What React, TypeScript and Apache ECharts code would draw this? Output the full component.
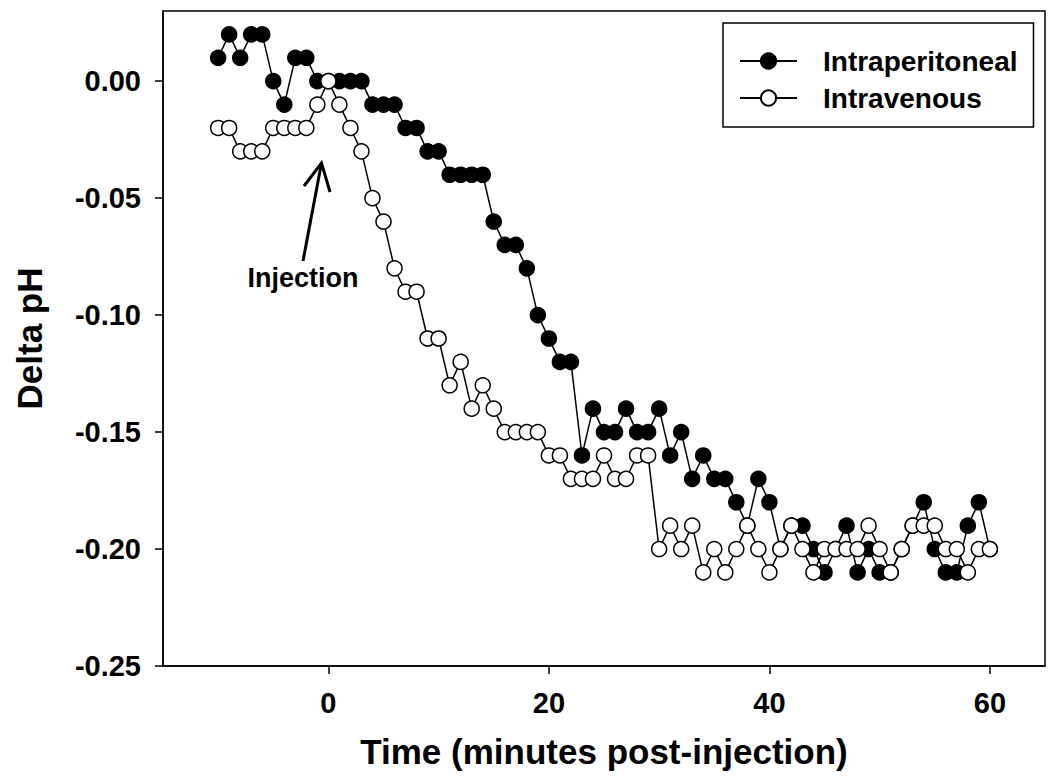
import React, { useEffect, useRef } from "react";
import * as echarts from "echarts";

const minutes = [
  -10, -9, -8, -7, -6, -5, -4, -3, -2, -1, 0, 1, 2, 3, 4, 5, 6, 7, 8, 9, 10,
  11, 12, 13, 14, 15, 16, 17, 18, 19, 20, 21, 22, 23, 24, 25, 26, 27, 28, 29, 30,
  31, 32, 33, 34, 35, 36, 37, 38, 39, 40, 41, 42, 43, 44, 45, 46, 47, 48, 49, 50,
  51, 52, 53, 54, 55, 56, 57, 58, 59, 60,
];

const intraperitoneal = [
  0.01, 0.02, 0.01, 0.02, 0.02, 0.0, -0.01, 0.01, 0.01, 0.0, 0.0, 0.0, 0.0, 0.0,
  -0.01, -0.01, -0.01, -0.02, -0.02, -0.03, -0.03, -0.04, -0.04, -0.04, -0.04,
  -0.06, -0.07, -0.07, -0.08, -0.1, -0.11, -0.12, -0.12, -0.16, -0.14, -0.15,
  -0.15, -0.14, -0.15, -0.15, -0.14, -0.16, -0.15, -0.17, -0.16, -0.17, -0.17,
  -0.18, -0.19, -0.17, -0.18, -0.2, -0.19, -0.19, -0.2, -0.21, -0.2, -0.19,
  -0.21, -0.2, -0.21, -0.21, -0.2, -0.19, -0.18, -0.2, -0.21, -0.21, -0.19,
  -0.18, -0.2,
];

const intravenous = [
  -0.02, -0.02, -0.03, -0.03, -0.03, -0.02, -0.02, -0.02, -0.02, -0.01, 0.0,
  -0.01, -0.02, -0.03, -0.05, -0.06, -0.08, -0.09, -0.09, -0.11, -0.11, -0.13,
  -0.12, -0.14, -0.13, -0.14, -0.15, -0.15, -0.15, -0.15, -0.16, -0.16, -0.17,
  -0.17, -0.17, -0.16, -0.17, -0.17, -0.16, -0.16, -0.2, -0.19, -0.2, -0.19,
  -0.21, -0.2, -0.21, -0.2, -0.19, -0.2, -0.21, -0.2, -0.19, -0.2, -0.21, -0.2,
  -0.2, -0.2, -0.2, -0.19, -0.2, -0.21, -0.2, -0.19, -0.19, -0.19, -0.2, -0.2,
  -0.21, -0.2, -0.2,
];

const xTicks = [0, 20, 40, 60];
const yTicks = [-0.25, -0.2, -0.15, -0.1, -0.05, 0];

const FONT = "'Liberation Sans', Arial, Helvetica, sans-serif";

export default function App() {
  const ref = useRef<HTMLDivElement>(null);

  useEffect(() => {
    const chart = echarts.init(ref.current!, null, { renderer: "svg" });
    const pairs = (ys: number[]) => minutes.map((m, i) => [m, ys[i]]);

    chart.setOption({
      animation: false,
      backgroundColor: "#fff",
      grid: {
        left: 163,
        right: 5,
        top: 11,
        bottom: 117,
        show: true,
        borderColor: "#000",
        borderWidth: 1.5,
        outerBoundsMode: "none",
      },
      xAxis: {
        type: "value",
        min: -15,
        max: 65,
        name: "Time (minutes post-injection)",
        nameLocation: "middle",
        nameGap: 68,
        nameTextStyle: {
          fontSize: 35,
          fontWeight: "bold",
          color: "#000",
          fontFamily: FONT,
        },
        axisLine: { show: true, onZero: false, lineStyle: { color: "#000", width: 1.5 } },
        axisTick: {
          show: true,
          inside: false,
          length: 8,
          customValues: xTicks,
          lineStyle: { color: "#000", width: 1.5 },
        },
        axisLabel: {
          customValues: xTicks,
          margin: 22,
          fontSize: 29,
          fontWeight: "bold",
          color: "#000",
          fontFamily: FONT,
        },
        splitLine: { show: false },
      },
      yAxis: {
        type: "value",
        min: -0.25,
        max: 0.03,
        name: "Delta pH",
        nameLocation: "middle",
        nameGap: 116,
        nameTextStyle: {
          fontSize: 35,
          fontWeight: "bold",
          color: "#000",
          fontFamily: FONT,
        },
        axisLine: { show: true, onZero: false, lineStyle: { color: "#000", width: 1.5 } },
        axisTick: {
          show: true,
          inside: false,
          length: 8,
          customValues: yTicks,
          lineStyle: { color: "#000", width: 1.5 },
        },
        axisLabel: {
          customValues: yTicks,
          margin: 22,
          fontSize: 29,
          fontWeight: "bold",
          color: "#000",
          fontFamily: FONT,
          formatter: (v: number) => v.toFixed(2),
        },
        splitLine: { show: false },
      },
      legend: {
        left: 723,
        top: 23,
        orient: "vertical",
        padding: [24, 16, 15, 16],
        borderColor: "#000",
        borderWidth: 1.5,
        itemWidth: 57,
        itemHeight: 19,
        itemGap: 9,
        textStyle: {
          fontSize: 28,
          fontWeight: "bold",
          color: "#000",
          fontFamily: FONT,
          padding: [0, 0, 0, 21],
        },
        data: ["Intraperitoneal", "Intravenous"],
      },
      graphic: [
        {
          type: "text",
          x: 303,
          y: 278,
          style: {
            text: "Injection",
            fontSize: 27,
            fontWeight: "bold",
            fontFamily: FONT,
            fill: "#000",
            textAlign: "center",
            textVerticalAlign: "middle",
          },
        },
        {
          type: "line",
          shape: { x1: 303, y1: 261, x2: 321.5, y2: 163 },
          style: { stroke: "#000", lineWidth: 3 },
        },
        {
          type: "polyline",
          shape: { points: [[304, 186], [321.5, 163], [330, 192]] },
          style: { stroke: "#000", lineWidth: 3, fill: null },
        },
      ],
      series: [
        {
          name: "Intraperitoneal",
          type: "line",
          data: pairs(intraperitoneal),
          symbol: "circle",
          symbolSize: 15,
          showAllSymbol: true,
          lineStyle: { color: "#000", width: 1.5 },
          itemStyle: { color: "#000", borderColor: "#000", borderWidth: 1.5 },
          emphasis: { disabled: true },
        },
        {
          name: "Intravenous",
          type: "line",
          data: pairs(intravenous),
          symbol: "circle",
          symbolSize: 15,
          showAllSymbol: true,
          lineStyle: { color: "#000", width: 1.5 },
          itemStyle: { color: "#fff", borderColor: "#000", borderWidth: 1.5 },
          emphasis: { disabled: true },
        },
      ],
    });

    return () => chart.dispose();
  }, []);

  return (
    <div
      ref={ref}
      style={{ position: "fixed", left: 0, top: 0, width: 1050, height: 783 }}
    />
  );
}
